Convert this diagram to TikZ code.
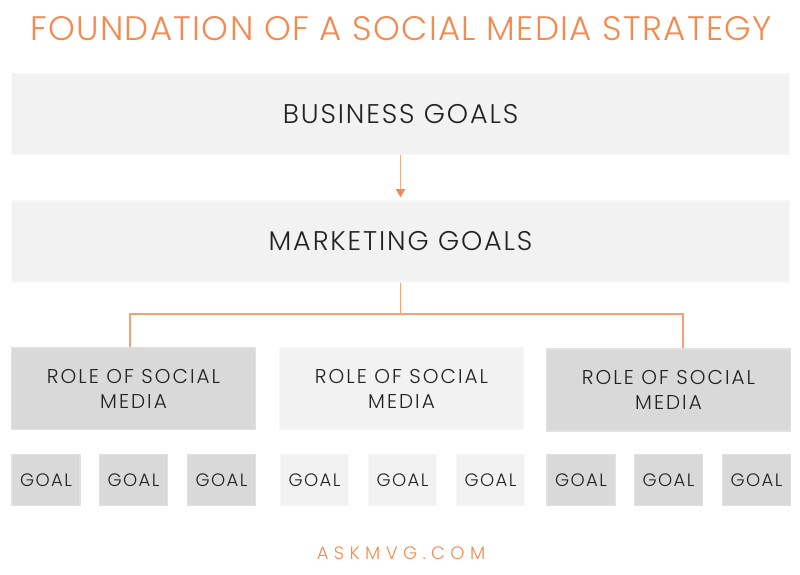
\documentclass[tikz,border=0pt]{standalone}
\usepackage{fontspec}
\setmainfont{Poppins}[UprightFont=* Light]
\usepackage{tikz}
\usetikzlibrary{shapes.geometric,arrows,arrows.meta}
\definecolor{brandorange}{HTML}{F5894F}
\definecolor{palegray}{HTML}{F2F2F2}
\definecolor{midgray}{HTML}{D9D9D9}
\definecolor{inkgray}{HTML}{222222}
\tikzstyle{tier} = [rectangle, minimum width=778pt, minimum height=81pt, text centered,
draw=palegray!60, line width=1.5pt, fill=palegray, text=inkgray,
font=\fontsize{27}{32}\selectfont\addfontfeatures{LetterSpace=7}]
\tikzstyle{roledark} = [rectangle, minimum width=244pt, minimum height=82pt, align=center,
draw=midgray!80, line width=1.5pt, fill=midgray, text=inkgray,
font=\fontsize{20}{25}\selectfont\addfontfeatures{LetterSpace=10}]
\tikzstyle{rolelight} = [roledark, draw=palegray!60, fill=palegray]
\tikzstyle{goaldark} = [rectangle, minimum width=68pt, minimum height=51pt, text centered,
draw=midgray!80, line width=1.5pt, fill=midgray, text=inkgray,
font=\fontsize{18}{21}\selectfont\addfontfeatures{LetterSpace=8}]
\tikzstyle{goallight} = [goaldark, draw=palegray!60, fill=palegray]
\tikzstyle{arrow} = [line width=1.6pt, draw=brandorange!70,
-{Triangle[length=8pt,width=9pt,fill=brandorange,color=brandorange]}, shorten >=3pt]
\tikzstyle{link} = [line width=1.5pt, draw=brandorange!80]

\begin{document}
\begin{tikzpicture}[x=1pt, y=1pt, node distance=127.5pt]
                 \useasboundingbox (0,0) rectangle (800,575);
                 \node (title) at (401,546) [text=brandorange,
                     font=\fontsize{34}{40}\selectfont\addfontfeatures{LetterSpace=4}]
                     {FOUNDATION OF A SOCIAL MEDIA STRATEGY};
                 \node (bus) at (400.5,461) [tier] {BUSINESS GOALS};
                 \node (mkt) [tier, below of=bus] {MARKETING GOALS};
                 \node (role1) at (133.5,186.5) [roledark] {ROLE OF SOCIAL\\MEDIA};
                 \node (role2) at (401.5,186.5) [rolelight] {ROLE OF SOCIAL\\MEDIA};
                 \node (role3) at (668.5,185) [roledark] {ROLE OF SOCIAL\\MEDIA};
                 \node (g1) at (46,95) [goaldark] {GOAL};
                 \node (g2) at (133.5,95) [goaldark] {GOAL};
                 \node (g3) at (221.5,95) [goaldark] {GOAL};
                 \node (g4) at (314.5,95) [goallight] {GOAL};
                 \node (g5) at (402.5,95) [goallight] {GOAL};
                 \node (g6) at (490.5,95) [goallight] {GOAL};
                 \node (g7) at (581,95) [goaldark] {GOAL};
                 \node (g8) at (668.5,95) [goaldark] {GOAL};
                 \node (g9) at (756.5,95) [goaldark] {GOAL};
                 \node (site) at (401,22) [text=brandorange,
                     font=\fontsize{18}{22}\selectfont\addfontfeatures{LetterSpace=30}]
                     {ASKMVG.COM};
                 % split towards the outer roles
                 \coordinate (splitl) at (130,261);
                 \coordinate (splitr) at (683,261);
                 \draw [arrow] (bus) -- (mkt);
                 \draw [link] (mkt.south) |- (splitl) -- (splitl |- role1.north);
                 \draw [link] (mkt.south) |- (splitr) -- (splitr |- role3.north);
             \end{tikzpicture}
\end{document}
